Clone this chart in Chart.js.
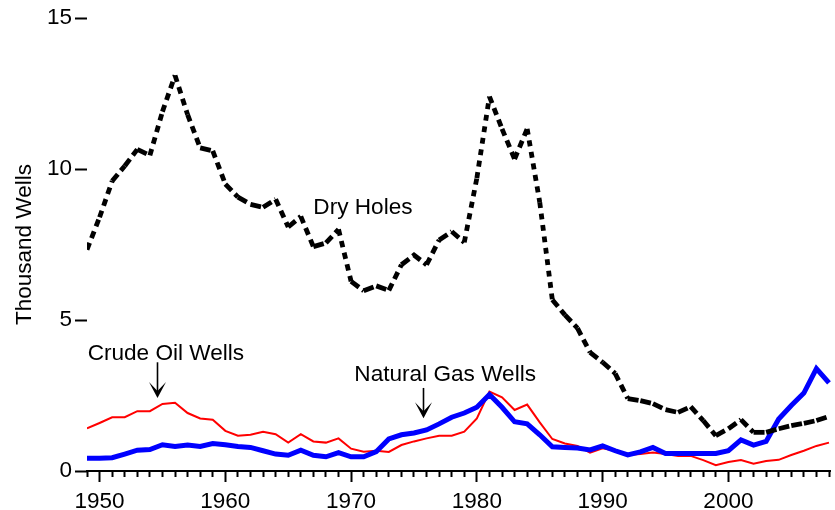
<!DOCTYPE html>
<html>
<head>
<meta charset="utf-8">
<script src="https://cdn.jsdelivr.net/npm/chart.js@4.4.1/dist/chart.umd.min.js"></script>
<style>
  html, body { margin: 0; padding: 0; background: #fff; }
  #wrap { width: 835px; height: 510px; }
</style>
</head>
<body>
<div id="wrap"><canvas id="c" width="835" height="510"></canvas></div>
<script>
// ---- Data (thousand wells) ----
const years = [];
for (let y = 1949; y <= 2008; y++) years.push(y);

const dryHoles = [
  7.33, 8.4, 9.6, 10.1, 10.65, 10.45, 11.9, 13.1, 11.8, 10.7,
  10.6, 9.5, 9.07, 8.83, 8.73, 9.0, 8.08, 8.43, 7.43, 7.55,
  8.0, 6.28, 5.97, 6.13, 5.98, 6.83, 7.15, 6.83, 7.65, 7.93,
  7.57, 9.7, 12.4, 11.33, 10.33, 11.33, 8.9, 5.67, 5.17, 4.73,
  3.93, 3.6, 3.23, 2.4, 2.33, 2.23, 2.03, 1.94, 2.13, 1.67,
  1.17, 1.4, 1.7, 1.28, 1.28, 1.4, 1.5, 1.58, 1.67, 1.81
];
const crudeOilWells = [
  1.41, 1.59, 1.78, 1.78, 1.98, 1.98, 2.22, 2.26, 1.92, 1.74,
  1.7, 1.33, 1.17, 1.2, 1.3, 1.22, 0.94, 1.22, 0.98, 0.94,
  1.08, 0.74, 0.64, 0.67, 0.63, 0.86, 0.98, 1.08, 1.17, 1.17,
  1.3, 1.74, 2.63, 2.44, 2.02, 2.2, 1.61, 1.06, 0.91, 0.83,
  0.61, 0.75, 0.67, 0.53, 0.56, 0.61, 0.56, 0.5, 0.5, 0.36,
  0.19, 0.3, 0.36, 0.24, 0.33, 0.37, 0.53, 0.67, 0.83, 0.94
];
const naturalGasWells = [
  0.42, 0.42, 0.44, 0.56, 0.69, 0.71, 0.87, 0.81, 0.86, 0.81,
  0.91, 0.87, 0.81, 0.78, 0.67, 0.56, 0.52, 0.69, 0.52, 0.47,
  0.61, 0.47, 0.47, 0.64, 1.06, 1.2, 1.26, 1.36, 1.56, 1.78,
  1.92, 2.11, 2.53, 2.11, 1.63, 1.56, 1.2, 0.8, 0.78, 0.76,
  0.7, 0.83, 0.67, 0.53, 0.63, 0.78, 0.58, 0.58, 0.58, 0.58,
  0.58, 0.67, 1.03, 0.86, 0.98, 1.72, 2.17, 2.58, 3.39, 2.92
];
const yTickValues = [0, 5, 10, 15];
const xLabelYears = [1950, 1960, 1970, 1980, 1990, 2000];

// ---- Annotation texts ----
const seriesLabels = ['Dry Holes', 'Crude Oil Wells', 'Natural Gas Wells'];
const axisTitle = 'Thousand Wells';

const FONT = "'Liberation Sans', Arial, Helvetica, sans-serif";

const toPoints = arr => arr.map((v, i) => ({ x: years[i], y: v }));

// annotation placements in data coordinates
const notes = [
  { text: seriesLabels[0], x: 1967.0, y: 8.5 },
  { text: seriesLabels[1], x: 1949.05, y: 3.68 },
  { text: seriesLabels[2], x: 1970.26, y: 2.99 }
];
const arrows = [
  { x: 1954.6, y0: 3.6, y1: 2.42 },
  { x: 1975.7, y0: 2.75, y1: 1.75 }
];

const annotationPlugin = {
  id: 'notes',
  afterDraw(chart) {
    const { ctx, scales: { x, y } } = chart;
    ctx.save();
    ctx.fillStyle = '#000';
    ctx.font = '22.6px ' + FONT;
    ctx.textAlign = 'left';
    ctx.textBaseline = 'alphabetic';
    notes.forEach(n => {
      ctx.fillText(n.text, x.getPixelForValue(n.x), y.getPixelForValue(n.y));
    });
    ctx.strokeStyle = '#000';
    ctx.lineWidth = 1.6;
    arrows.forEach(a => {
      const px = Math.round(x.getPixelForValue(a.x)) + 0.5;
      const py0 = y.getPixelForValue(a.y0);
      const py1 = y.getPixelForValue(a.y1);
      ctx.beginPath();
      ctx.moveTo(px, py0);
      ctx.lineTo(px, py1 - 6);
      ctx.stroke();
      ctx.beginPath();
      ctx.moveTo(px, py1);
      ctx.lineTo(px - 8.5, py1 - 16);
      ctx.lineTo(px, py1 - 7);
      ctx.lineTo(px + 8.5, py1 - 16);
      ctx.closePath();
      ctx.fill();
    });
    ctx.restore();
  }
};

const dryDash = c => {
  const dx = Math.abs(c.p1.x - c.p0.x);
  const dy = Math.abs(c.p1.y - c.p0.y);
  const len = Math.hypot(dx, dy) || 1;
  const cs = dx / len;
  return [5 + 6 * cs, 6 - 2 * cs];
};

new Chart(document.getElementById('c'), {
  type: 'line',
  data: {
    datasets: [
      {
        label: seriesLabels[0],
        data: toPoints(dryHoles),
        borderColor: '#000',
        borderWidth: 4.8,
        borderCapStyle: 'butt',
        pointRadius: 0,
        tension: 0,
        segment: { borderDash: dryDash }
      },
      {
        label: seriesLabels[2],
        data: toPoints(naturalGasWells),
        borderColor: '#0000ff',
        borderWidth: 5,
        pointRadius: 0,
        tension: 0
      },
      {
        label: seriesLabels[1],
        data: toPoints(crudeOilWells),
        borderColor: '#ff0000',
        borderWidth: 2,
        pointRadius: 0,
        tension: 0
      }
    ]
  },
  options: {
    responsive: false,
    animation: false,
    devicePixelRatio: 1,
    layout: { padding: { top: 18, left: 0, right: 0, bottom: 0 } },
    plugins: { legend: { display: false }, tooltip: { enabled: false } },
    scales: {
      x: {
        type: 'linear',
        min: 1949,
        max: 2008.15,
        afterBuildTicks: s => { s.ticks = years.map(v => ({ value: v })); },
        afterFit: s => { s.height = 39; },
        border: { display: true, color: '#000', width: 2 },
        grid: {
          drawOnChartArea: false,
          drawTicks: true,
          tickLength: 11,
          tickColor: '#000',
          tickWidth: 2,
          tickBorderDash: c => (c.tick && xLabelYears.includes(c.tick.value)) ? [] : [5, 30]
        },
        ticks: {
          autoSkip: false,
          maxRotation: 0,
          padding: 6,
          color: '#000',
          font: { family: FONT, size: 22.5 },
          callback: v => xLabelYears.includes(v) ? String(v) : ''
        }
      },
      y: {
        type: 'linear',
        min: 0,
        max: 15,
        afterBuildTicks: s => { s.ticks = yTickValues.map(v => ({ value: v })); },
        afterFit: s => { s.width = 87; },
        border: { display: false },
        grid: {
          drawOnChartArea: false,
          drawTicks: true,
          tickLength: 12,
          tickColor: '#000',
          tickWidth: 2
        },
        ticks: {
          padding: 3,
          color: '#000',
          font: { family: FONT, size: 22.5 }
        },
        title: {
          display: true,
          text: axisTitle,
          color: '#000',
          font: { family: FONT, size: 22.5 },
          padding: { top: 11, bottom: 0 }
        }
      }
    }
  },
  plugins: [annotationPlugin]
});
</script>
</body>
</html>
